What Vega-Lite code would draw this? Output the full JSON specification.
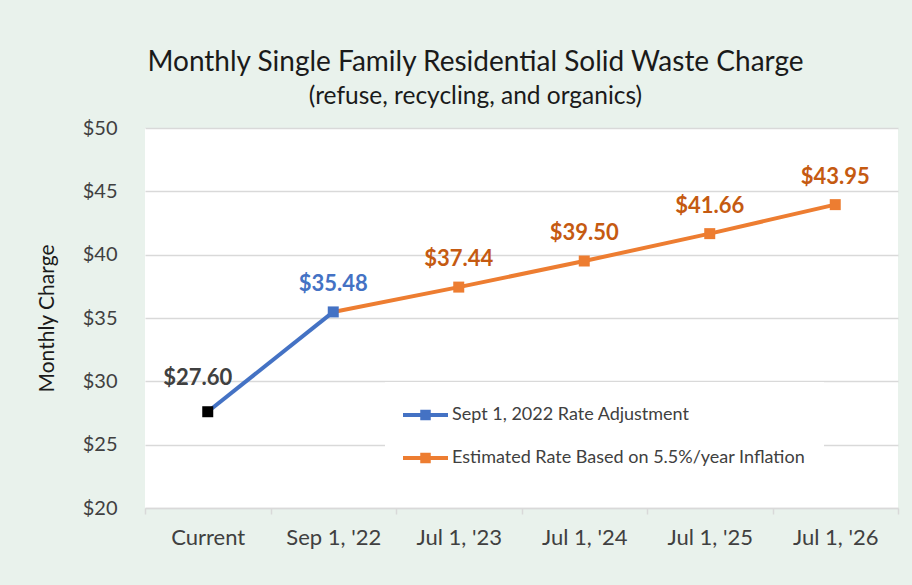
{
  "$schema": "https://vega.github.io/schema/vega-lite/v6.json",
  "width": 753,
  "height": 380,
  "autosize": {"type": "none"},
  "padding": {"left": 145, "top": 128, "right": 14, "bottom": 77},
  "background": "#e9f2ec",
  "config": {
    "font": "Lato",
    "view": {"fill": "white", "stroke": null}
  },
  "title": {
    "text": "Monthly Single Family Residential Solid Waste Charge",
    "subtitle": "(refuse, recycling, and organics)",
    "anchor": "middle",
    "dx": -46,
    "fontSize": 28,
    "fontWeight": "normal",
    "color": "#1a1a1a",
    "subtitleFontSize": 24.5,
    "subtitleColor": "#1a1a1a",
    "subtitlePadding": 8,
    "offset": 10
  },
  "datasets": {
    "lines": [
      {"period": "Current", "value": 27.60, "series": "Sept 1, 2022 Rate Adjustment"},
      {"period": "Sep 1, '22", "value": 35.48, "series": "Sept 1, 2022 Rate Adjustment"},
      {"period": "Sep 1, '22", "value": 35.48, "series": "Estimated Rate Based on 5.5%/year Inflation"},
      {"period": "Jul 1, '23", "value": 37.44, "series": "Estimated Rate Based on 5.5%/year Inflation"},
      {"period": "Jul 1, '24", "value": 39.50, "series": "Estimated Rate Based on 5.5%/year Inflation"},
      {"period": "Jul 1, '25", "value": 41.66, "series": "Estimated Rate Based on 5.5%/year Inflation"},
      {"period": "Jul 1, '26", "value": 43.95, "series": "Estimated Rate Based on 5.5%/year Inflation"}
    ],
    "points": [
      {"period": "Current", "value": 27.60, "kind": "current"},
      {"period": "Sep 1, '22", "value": 35.48, "kind": "adjusted"},
      {"period": "Jul 1, '23", "value": 37.44, "kind": "estimated"},
      {"period": "Jul 1, '24", "value": 39.50, "kind": "estimated"},
      {"period": "Jul 1, '25", "value": 41.66, "kind": "estimated"},
      {"period": "Jul 1, '26", "value": 43.95, "kind": "estimated"}
    ]
  },
  "encoding": {
    "x": {
      "field": "period",
      "type": "nominal",
      "sort": ["Current", "Sep 1, '22", "Jul 1, '23", "Jul 1, '24", "Jul 1, '25", "Jul 1, '26"],
      "scale": {"type": "band", "paddingInner": 0, "paddingOuter": 0},
      "axis": {
        "title": null,
        "labelAngle": 0,
        "labelFontSize": 22,
        "labelColor": "#404040",
        "labelPadding": 13,
        "domainColor": "#d9d9d9",
        "domainWidth": 1.5,
        "tickColor": "#d9d9d9",
        "tickWidth": 1.5,
        "tickSize": 6,
        "tickBand": "extent",
        "grid": false
      }
    },
    "y": {
      "field": "value",
      "type": "quantitative",
      "scale": {"domain": [20, 50], "nice": false, "zero": false},
      "axis": {
        "title": "Monthly Charge",
        "titleFontSize": 21,
        "titleFontWeight": "normal",
        "titleColor": "#1a1a1a",
        "titlePadding": 25,
        "values": [20, 25, 30, 35, 40, 45, 50],
        "format": "$.0f",
        "labelFontSize": 20,
        "labelColor": "#404040",
        "labelPadding": 28,
        "ticks": false,
        "domain": false,
        "gridColor": "#d9d9d9",
        "gridWidth": 1.5
      }
    }
  },
  "layer": [
    {
      "data": {"name": "lines"},
      "mark": {"type": "line", "strokeWidth": 4},
      "encoding": {
        "color": {
          "field": "series",
          "type": "nominal",
          "scale": {
            "domain": ["Sept 1, 2022 Rate Adjustment", "Estimated Rate Based on 5.5%/year Inflation"],
            "range": ["#4472c4", "#ed7d31"]
          },
          "legend": {
            "title": null,
            "orient": "none",
            "legendX": 240,
            "legendY": 254,
            "fillColor": "white",
            "padding": 18,
            "labelFontSize": 18,
            "labelColor": "#404040",
            "labelOffset": 19,
            "labelLimit": 600,
            "rowPadding": 19,
            "symbolSize": 900,
            "symbolStrokeWidth": 0,
            "symbolType": "M-1,-0.133H0.15V-0.35H0.85V-0.133H2V0.133H0.85V0.35H0.15V0.133H-1Z",
            "encode": {
              "symbols": {"update": {"fill": {"signal": "scale('color', datum.value)"}, "strokeWidth": {"value": 0}, "opacity": {"value": 1}}}
            }
          }
        }
      }
    },
    {
      "data": {"name": "points"},
      "mark": {"type": "square", "size": 121, "filled": true, "opacity": 1},
      "encoding": {
        "fill": {
          "field": "kind",
          "type": "nominal",
          "scale": {"domain": ["current", "adjusted", "estimated"], "range": ["#000000", "#4472c4", "#ed7d31"]},
          "legend": null
        }
      }
    },
    {
      "data": {"name": "points"},
      "transform": [{"filter": "datum.kind === 'current'"}],
      "mark": {"type": "text", "fontSize": 22, "fontWeight": "bold", "color": "#404040", "dx": -10, "dy": -34, "baseline": "middle"},
      "encoding": {"text": {"field": "value", "type": "quantitative", "format": "$.2f"}}
    },
    {
      "data": {"name": "points"},
      "transform": [{"filter": "datum.kind === 'adjusted'"}],
      "mark": {"type": "text", "fontSize": 22, "fontWeight": "bold", "color": "#4472c4", "dy": -28, "baseline": "middle"},
      "encoding": {"text": {"field": "value", "type": "quantitative", "format": "$.2f"}}
    },
    {
      "data": {"name": "points"},
      "transform": [{"filter": "datum.kind === 'estimated'"}],
      "mark": {"type": "text", "fontSize": 22, "fontWeight": "bold", "color": "#c55a11", "dy": -28, "baseline": "middle"},
      "encoding": {"text": {"field": "value", "type": "quantitative", "format": "$.2f"}}
    }
  ]
}
